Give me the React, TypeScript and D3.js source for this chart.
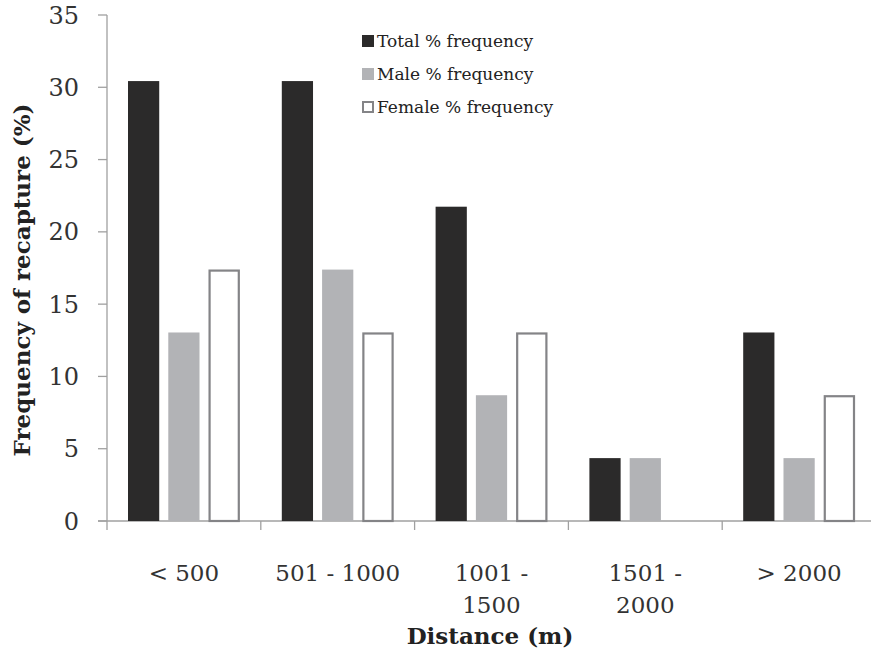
import { useEffect, useRef } from "react"
import * as d3 from "d3"

// distance classes (tick labels split over lines)
const categories = ["< 500", "501 - 1000", "1001 - 1500", "1501 - 2000", "> 2000"]
const categoryLines = [["< 500"], ["501 - 1000"], ["1001 -", "1500"], ["1501 -", "2000"], ["> 2000"]]
const seriesNames = ["Total % frequency", "Male % frequency", "Female % frequency"]
const totalValues = [30.43, 30.43, 21.74, 4.35, 13.04]
const maleValues = [13.04, 17.39, 8.7, 4.35, 4.35]
const femaleValues = [17.39, 13.04, 13.04, 0, 8.7]
const yTicks = [0, 5, 10, 15, 20, 25, 30, 35]

const FILL = ["#2b2a2a", "#b2b3b6", "#ffffff"]
const STROKE = ["#2b2a2a", "#b2b3b6", "#848487"]
const FONT = "'DejaVu Serif', serif"

export default function App() {
  const svgRef = useRef<SVGSVGElement>(null)
  const width = 871
  const height = 653

  useEffect(() => {
    if (!svgRef.current) return
    const svg = d3.select(svgRef.current)
    svg.selectAll("*").remove()

    const left = 107
    const right = 876
    const top = 15
    const bottom = 521

    const x = d3.scaleBand<string>().domain(categories).range([left, right]).padding(0)
    const y = d3.scaleLinear().domain([0, 35]).range([bottom, top])
    const inner = d3.scaleBand<number>().domain([0, 1, 2]).range([21, x.bandwidth() - 21]).paddingInner(0.225)

    // y axis
    svg.append("line").attr("x1", left).attr("x2", left).attr("y1", top).attr("y2", bottom)
      .attr("stroke", "#a0a0a0").attr("stroke-width", 1.3)
    yTicks.forEach((t) => {
      svg.append("line").attr("x1", left - 9).attr("x2", left).attr("y1", y(t)).attr("y2", y(t))
        .attr("stroke", "#a0a0a0").attr("stroke-width", 1.3)
      svg.append("text").attr("x", 79).attr("y", y(t)).attr("dy", "0.36em")
        .attr("text-anchor", "end").attr("font-family", FONT).attr("font-size", 24)
        .attr("fill", "#333").text(t)
    })

    // x axis
    svg.append("line").attr("x1", left - 9).attr("x2", right).attr("y1", bottom).attr("y2", bottom)
      .attr("stroke", "#a0a0a0").attr("stroke-width", 1.3)
    categories.forEach((c) => {
      const bx = x(c)!
      svg.append("line").attr("x1", bx).attr("x2", bx).attr("y1", bottom).attr("y2", bottom + 9)
        .attr("stroke", "#a0a0a0").attr("stroke-width", 1.3)
    })

    // bars
    const series = [totalValues, maleValues, femaleValues]
    series.forEach((vals, si) => {
      svg.append("g").selectAll("rect").data(vals).join("rect")
        .attr("x", (_, i) => x(categories[i])! + inner(si)! + (si === 2 ? 1 : 0))
        .attr("y", (d) => y(d) + (si === 2 ? 1 : 0))
        .attr("width", inner.bandwidth() - (si === 2 ? 2 : 0))
        .attr("height", (d) => Math.max(0, bottom - y(d) - (si === 2 ? 1 : 0)))
        .attr("fill", FILL[si])
        .attr("stroke", si === 2 ? STROKE[si] : "none")
        .attr("stroke-width", 2.2)
        .style("display", (d) => (d > 0 ? null : "none"))
    })

    // x tick labels
    categories.forEach((c, i) => {
      const cx = x(c)! + x.bandwidth() / 2
      const t = svg.append("text").attr("text-anchor", "middle").attr("font-family", FONT)
        .attr("font-size", 23).attr("fill", "#333")
      categoryLines[i].forEach((line, li) => {
        t.append("tspan").attr("x", cx).attr("y", 581 + li * 32).text(line)
      })
    })

    // axis titles
    svg.append("text").attr("x", 490).attr("y", 644).attr("text-anchor", "middle")
      .attr("font-family", FONT).attr("font-weight", "bold").attr("font-size", 23)
      .attr("fill", "#222").text("Distance (m)")
    svg.append("text").attr("transform", `translate(30,${(top + bottom) / 2 + 12}) rotate(-90)`)
      .attr("text-anchor", "middle").attr("font-family", FONT).attr("font-weight", "bold")
      .attr("font-size", 23).attr("fill", "#222").text("Frequency of recapture (%)")

    // legend
    seriesNames.forEach((name, i) => {
      const ly = 41 + i * 33
      svg.append("rect").attr("x", 362 + (i === 2 ? 1 : 0)).attr("y", ly - 6 + (i === 2 ? 1 : 0))
        .attr("width", i === 2 ? 10 : 12).attr("height", i === 2 ? 10 : 12)
        .attr("fill", FILL[i]).attr("stroke", i === 2 ? STROKE[i] : "none").attr("stroke-width", 2)
      svg.append("text").attr("x", 377).attr("y", ly).attr("dy", "0.36em")
        .attr("font-family", FONT).attr("font-size", 17).attr("fill", "#222").text(name)
    })
  }, [])

  return (
    <svg ref={svgRef} width={width} height={height}
      style={{ position: "absolute", left: 0, top: 0, background: "#fff" }} />
  )
}
